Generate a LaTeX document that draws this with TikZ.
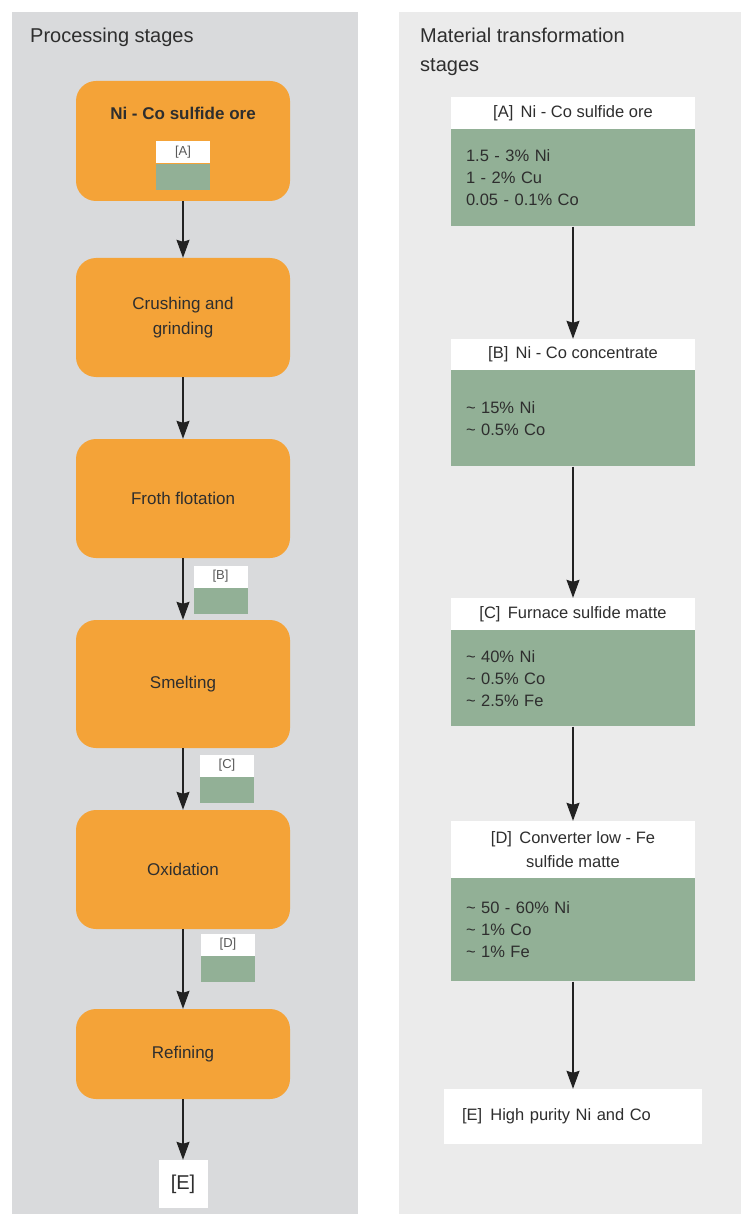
\documentclass[tikz,border=0pt]{standalone}
\usepackage{fontspec}
\setmainfont{Liberation Sans}
\usepackage{tikz}
\usetikzlibrary{
  arrows.meta,
  chains,
  positioning,
  scopes
}
\definecolor{panelL}{HTML}{D9DADC}
\definecolor{panelR}{HTML}{EBEBEB}
\definecolor{orebox}{HTML}{F4A338}
\definecolor{sage}{HTML}{92B096}
\definecolor{ink}{HTML}{2E2E2E}
\definecolor{arrowink}{HTML}{222222}

\begin{document}
\begin{tikzpicture}[x=1pt,y=-1pt,
      procbox/.style={
         rectangle,
         rounded corners=20pt,
         fill=orebox,
         minimum width=214pt,
         inner sep=0pt,
         align=center,
         text=ink,
         font=\fontsize{17}{25}\selectfont
      },
      tagtop/.style={
         fill=white,
         minimum width=54pt,
         minimum height=22pt,
         inner sep=0pt,
         text=ink!80,
         font=\fontsize{13}{13}\selectfont
      },
      tagbody/.style={
         fill=sage,
         minimum width=54pt,
         minimum height=26pt,
         inner sep=0pt
      },
      matheader/.style={
         fill=white,
         minimum width=244pt,
         inner sep=0pt,
         align=center,
         text=ink,
         font=\fontsize{16.5}{24}\selectfont
      },
      matbody/.style={
         fill=sage,
         text width=214pt,
         inner xsep=15pt,
         inner ysep=0pt,
         align=left,
         text=ink,
         font=\fontsize{16.5}{22}\selectfont
      },
      heading/.style={
         anchor=north west,
         inner sep=0pt,
         align=left,
         text=ink,
         font=\fontsize{20}{29}\selectfont
      },
      tip/.style={arrows={-Stealth[length=18pt,width=13pt,inset=2pt]}},
      every join/.style={draw=arrowink,line width=1.4pt}
    ]
    \useasboundingbox (0,0) rectangle (741,1214);
    \fill[white] (0,0) rectangle (741,1214);
    % two panels
    \fill[panelL] (12,12) rectangle (358,1214);
    \fill[panelR] (399,12) rectangle (741,1214);
    \node (headL) [heading] at (30,27.5) {Processing stages};
    \node (headR) [heading] at (420,27.5) {Material transformation\\stages};

    % processing stages
    \node (p1) [procbox, minimum height=120pt] at (183,141) {};
    \node (p1text) [text=ink, font=\fontsize{17}{17}\selectfont\bfseries] at (183,113) {Ni - Co sulfide ore};
    \node (p2) [procbox, minimum height=119pt] at (183,317.5) {Crushing and\\grinding};
    \node (p3) [procbox, minimum height=119pt] at (183,498.5) {Froth flotation};
    \node (p4) [procbox, minimum height=128pt] at (183,684) {Smelting};
    \node (p5) [procbox, minimum height=119pt] at (183,869.5) {Oxidation};
    \node (p6) [procbox, minimum height=90pt] at (183,1054) {Refining};
    \node (pE) [fill=white, minimum width=49pt, minimum height=48pt, inner sep=0pt,
                text=ink, font=\fontsize{20}{20}\selectfont] at (183,1184) {[E]};

    \node (tA) [tagtop] at (183,152.5) {[A]};
    \node (tAb) [tagbody, below=0pt of tA] {};
    \node (tB) [tagtop] at (220.5,576.5) {[B]};
    \node (tBb) [tagbody, below=0pt of tB] {};
    \node (tC) [tagtop] at (227,765.5) {[C]};
    \node (tCb) [tagbody, below=0pt of tC] {};
    \node (tD) [tagtop] at (228,944.5) {[D]};
    \node (tDb) [tagbody, below=0pt of tD] {};

    % material transformation stages
    \node (mA) [matheader, minimum height=32pt] at (573,113) {[A]\, Ni - Co sulfide ore};
    \node (mAb) [matbody, minimum height=97pt, below=0pt of mA] {1.5 - 3\% Ni\\1 - 2\% Cu\\0.05 - 0.1\% Co};
    \node (mB) [matheader, minimum height=31pt] at (573,354.5) {[B]\, Ni - Co concentrate};
    \node (mBb) [matbody, minimum height=96pt, below=0pt of mB] {\textasciitilde{} 15\% Ni\\\textasciitilde{} 0.5\% Co};
    \node (mC) [matheader, minimum height=32pt] at (573,614) {[C]\, Furnace sulfide matte};
    \node (mCb) [matbody, minimum height=96pt, below=0pt of mC] {\textasciitilde{} 40\% Ni\\\textasciitilde{} 0.5\% Co\\\textasciitilde{} 2.5\% Fe};
    \node (mD) [matheader, minimum height=57pt] at (573,849.5) {[D]\, Converter low - Fe\\sulfide matte};
    \node (mDb) [matbody, minimum height=103pt, below=0pt of mD] {\textasciitilde{} 50 - 60\% Ni\\\textasciitilde{} 1\% Co\\\textasciitilde{} 1\% Fe};
    \node (mE) [fill=white, text width=222pt, inner xsep=18pt, minimum height=55pt, inner ysep=0pt,
                align=left, text=ink, font=\fontsize{16.5}{22}\selectfont] at (573,1116.5) {[E]\, High purity Ni and Co};

  { [start chain]
       \chainin (p1);
       \chainin (p2)    [join=by tip];
  }
  { [start chain]
       \chainin (p2);
       \chainin (p3)    [join=by tip];
  }
  { [start chain]
       \chainin (p3);
       \chainin (p4)    [join=by tip];
  }
  { [start chain]
       \chainin (p4);
       \chainin (p5)    [join=by tip];
  }
  { [start chain]
       \chainin (p5);
       \chainin (p6)    [join=by tip];
  }
  { [start chain]
       \chainin (p6);
       \chainin (pE)    [join=by tip];
  }
  { [start chain]
       \chainin (mAb);
       \chainin (mB)    [join=by tip];
  }
  { [start chain]
       \chainin (mBb);
       \chainin (mC)    [join=by tip];
  }
  { [start chain]
       \chainin (mCb);
       \chainin (mD)    [join=by tip];
  }
  { [start chain]
       \chainin (mDb);
       \chainin (mE)    [join=by tip];
  }
\end{tikzpicture}
\end{document}
